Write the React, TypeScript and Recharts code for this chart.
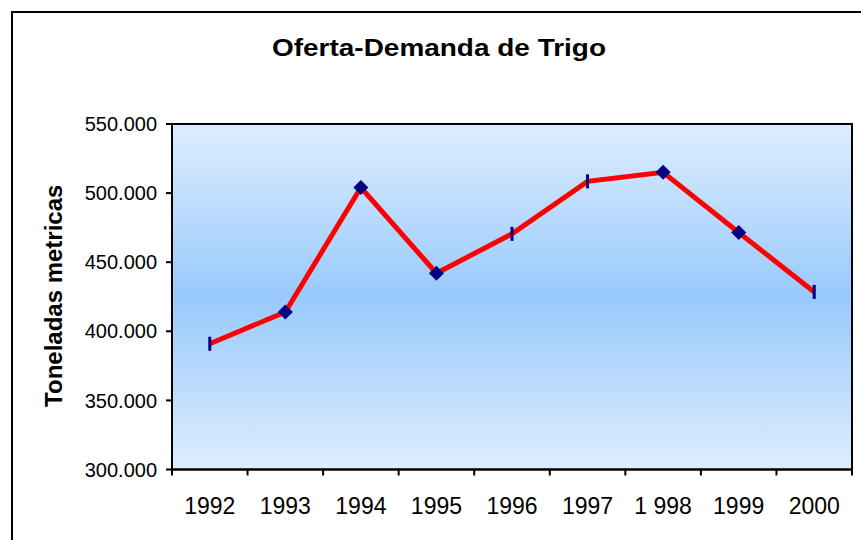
import React from "react";
import {
  LineChart,
  Line,
  XAxis,
  YAxis,
  ReferenceArea,
} from "recharts";

const years = ["1992", "1993", "1994", "1995", "1996", "1997", "1998", "1999", "2000"];
const yearLabels = ["1992", "1993", "1994", "1995", "1996", "1997", "1 998", "1999", "2000"];
const toneladas = [391000, 414000, 504000, 442000, 470500, 508500, 515000, 471500, 428500];
const yTicks = [300000, 350000, 400000, 450000, 500000, 550000];

// years drawn with a diamond marker, the rest get a small vertical dash
const diamondYears = new Set(["1993", "1994", "1995", "1998", "1999"]);

const data = years.map((year, i) => ({ x: i, year, value: toneladas[i] }));
const xTicks = years.flatMap((_, i) => [i - 0.5, i]).concat(years.length - 0.5);

const FONT = '"Liberation Sans", Arial, Helvetica, sans-serif';

const XTick = (props: any) => {
  const { x, y, payload } = props;
  const v = payload.value;
  if (Number.isInteger(v)) {
    return (
      <text x={x} y={y + 38} textAnchor="middle" fontSize={23} fontFamily={FONT} fill="#000">
        {yearLabels[v]}
      </text>
    );
  }
  return <line x1={x} x2={x} y1={y - 6} y2={y} stroke="#000" strokeWidth={2} />;
};

const Marker = (props: any) => {
  const { cx, cy, index } = props;
  if (cx == null || cy == null) return null;
  if (diamondYears.has(years[index])) {
    const r = 7.5;
    return (
      <polygon
        key={`m-${index}`}
        points={`${cx},${cy - r} ${cx + r},${cy} ${cx},${cy + r} ${cx - r},${cy}`}
        fill="#000080"
      />
    );
  }
  return <rect key={`m-${index}`} x={cx - 1.5} y={cy - 7} width={3} height={14} fill="#000080" />;
};

const YLabel = (props: any) => {
  const { viewBox } = props;
  const cx = viewBox.x + 53;
  const cy = viewBox.y + viewBox.height / 2 - 1;
  return (
    <text
      x={cx}
      y={cy}
      transform={`rotate(-90, ${cx}, ${cy})`}
      textAnchor="middle"
      dominantBaseline="central"
      fontSize={24}
      fontWeight="bold"
      fontFamily={FONT}
      fill="#000"
    >
      Toneladas metricas
    </text>
  );
};

export default function App() {
  return (
    <div
      style={{
        position: "absolute",
        left: 0,
        top: 0,
        width: 861,
        height: 540,
        overflow: "hidden",
        background: "#fff",
      }}
    >
      <div
        style={{
          position: "absolute",
          left: 11,
          top: 11,
          width: 900,
          height: 600,
          border: "2px solid #000",
        }}
      />
      <svg width={861} height={80} style={{ position: "absolute", left: 0, top: 0 }}>
        <text
          x={439}
          y={56}
          textAnchor="middle"
          fontSize={24.5}
          textLength={334}
          lengthAdjust="spacingAndGlyphs"
          fontWeight="bold"
          fontFamily={FONT}
          fill="#000"
        >
          Oferta-Demanda de Trigo
        </text>
      </svg>
      <div style={{ position: "absolute", left: 0, top: 0 }}>
        <LineChart
          width={861}
          height={540}
          data={data}
          margin={{ top: 124, right: 9, bottom: 10.5, left: 0 }}
        >
          <defs>
            <linearGradient id="plotBg" x1="0" y1="0" x2="0" y2="1">
              <stop offset="0%" stopColor="#DDEDFE" />
              <stop offset="50%" stopColor="#99CAFB" />
              <stop offset="100%" stopColor="#DDEDFE" />
            </linearGradient>
          </defs>
          <XAxis
            type="number"
            dataKey="x"
            domain={[-0.5, years.length - 0.5]}
            ticks={xTicks}
            interval={0}
            height={60}
            tickLine={false}
            tickSize={6}
            tickMargin={0}
            axisLine={{ stroke: "#000", strokeWidth: 2 }}
            tick={<XTick />}
          />
          <YAxis
            type="number"
            domain={[300000, 550000]}
            ticks={yTicks}
            interval={0}
            width={172}
            tickSize={6}
            tickMargin={9}
            tickLine={{ stroke: "#000", strokeWidth: 2 }}
            axisLine={{ stroke: "#000", strokeWidth: 2 }}
            tick={{ fill: "#000", fontSize: 20, fontFamily: FONT }}
            tickFormatter={(v: number) => v.toLocaleString("de-DE")}
            label={<YLabel />}
          />
          <ReferenceArea
            x1={-0.5}
            x2={years.length - 0.5}
            y1={300000}
            y2={550000}
            fill="url(#plotBg)"
            fillOpacity={1}
            stroke="#000"
            strokeWidth={2}
          />
          <Line
            type="linear"
            dataKey="value"
            stroke="#FF0000"
            strokeWidth={5}
            dot={<Marker />}
            activeDot={false}
            isAnimationActive={false}
          />
        </LineChart>
      </div>
    </div>
  );
}
